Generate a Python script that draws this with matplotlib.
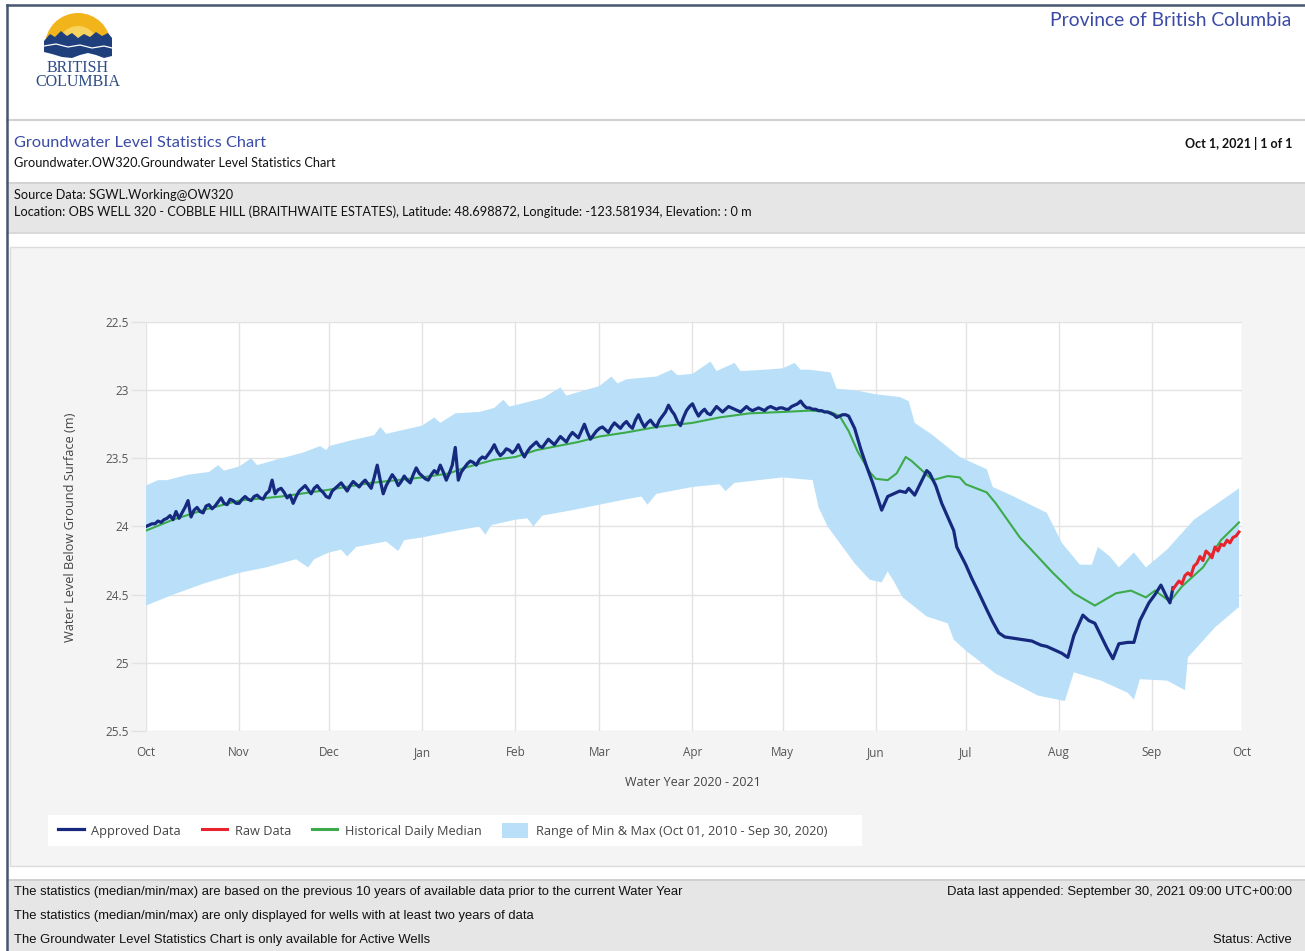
import matplotlib
matplotlib.use("Agg")
import matplotlib.pyplot as plt
import matplotlib.dates as mdates
from matplotlib.patches import Rectangle, Wedge, Polygon, Patch
from matplotlib.lines import Line2D
import numpy as np
import pandas as pd

# ---------------- data ----------------
# Approved data: daily readings from 2020-10-01 to 2021-05-23
approved_daily_start = "2020-10-01"
approved_daily_vals = [
    # Oct
    24.00, 23.99, 23.98, 23.98, 23.96, 23.97, 23.95, 23.94, 23.92, 23.95,
    23.89, 23.94, 23.90, 23.86, 23.81, 23.93, 23.88, 23.86, 23.89, 23.90,
    23.85, 23.84, 23.87, 23.85, 23.82, 23.79, 23.83, 23.84, 23.80, 23.81, 23.83,
    # Nov
    23.83, 23.80, 23.78, 23.80, 23.81, 23.78, 23.77, 23.79, 23.80, 23.76,
    23.74, 23.66, 23.76, 23.73, 23.72, 23.75, 23.79, 23.77, 23.83, 23.78,
    23.74, 23.72, 23.70, 23.73, 23.76, 23.72, 23.70, 23.73, 23.75, 23.78,
    # Dec
    23.79, 23.74, 23.72, 23.70, 23.68, 23.71, 23.74, 23.70, 23.67, 23.69,
    23.71, 23.68, 23.66, 23.69, 23.72, 23.64, 23.55, 23.66, 23.76, 23.70,
    23.66, 23.62, 23.65, 23.70, 23.67, 23.63, 23.66, 23.68, 23.62, 23.57, 23.61,
    # Jan
    23.63, 23.65, 23.66, 23.62, 23.59, 23.61, 23.55, 23.60, 23.66, 23.61,
    23.55, 23.42, 23.66, 23.60, 23.57, 23.54, 23.52, 23.53, 23.55, 23.51,
    23.49, 23.50, 23.47, 23.44, 23.40, 23.45, 23.48, 23.46, 23.43, 23.44, 23.46,
    # Feb
    23.44, 23.40, 23.45, 23.49, 23.45, 23.42, 23.40, 23.38, 23.41, 23.42,
    23.39, 23.36, 23.38, 23.40, 23.37, 23.34, 23.36, 23.38, 23.34, 23.31,
    23.33, 23.35, 23.30, 23.25, 23.31, 23.36, 23.33, 23.30,
    # Mar
    23.28, 23.27, 23.29, 23.31, 23.27, 23.24, 23.26, 23.28, 23.25, 23.23,
    23.26, 23.28, 23.22, 23.18, 23.23, 23.27, 23.24, 23.22, 23.25, 23.27,
    23.22, 23.19, 23.16, 23.11, 23.15, 23.18, 23.23, 23.26, 23.20, 23.15, 23.12,
    # Apr
    23.10, 23.15, 23.19, 23.16, 23.14, 23.17, 23.18, 23.15, 23.12, 23.14,
    23.16, 23.14, 23.12, 23.13, 23.14, 23.15, 23.16, 23.14, 23.12, 23.14,
    23.15, 23.14, 23.13, 23.14, 23.15, 23.13, 23.12, 23.13, 23.14, 23.13,
    # May 1-23
    23.13, 23.14, 23.14, 23.12, 23.11, 23.10, 23.08, 23.11, 23.13, 23.13,
    23.14, 23.14, 23.15, 23.15, 23.16, 23.16, 23.17, 23.18, 23.20, 23.19,
    23.18, 23.18, 23.19,
]
# Approved data after 2021-05-23
approved_dates = [
    "2021-05-25", "2021-05-27", "2021-05-29", "2021-05-31", "2021-06-03", "2021-06-05", "2021-06-07",
    "2021-06-09", "2021-06-11", "2021-06-12", "2021-06-14", "2021-06-16", "2021-06-18", "2021-06-19",
    "2021-06-21", "2021-06-23", "2021-06-25", "2021-06-27", "2021-06-28", "2021-07-01", "2021-07-03",
    "2021-07-05", "2021-07-08", "2021-07-10", "2021-07-12", "2021-07-14", "2021-07-17", "2021-07-20",
    "2021-07-23", "2021-07-26", "2021-07-28", "2021-07-31", "2021-08-02", "2021-08-04", "2021-08-06",
    "2021-08-09", "2021-08-11", "2021-08-13", "2021-08-15", "2021-08-17", "2021-08-19", "2021-08-21",
    "2021-08-24", "2021-08-26", "2021-08-28", "2021-08-31", "2021-09-02", "2021-09-04", "2021-09-06",
    "2021-09-07", "2021-09-08",
]
approved_vals = [
    23.28, 23.43, 23.56, 23.68, 23.88, 23.78, 23.76,
    23.74, 23.75, 23.72, 23.77, 23.68, 23.59, 23.61,
    23.70, 23.83, 23.93, 24.03, 24.15, 24.28, 24.38,
    24.47, 24.61, 24.70, 24.78, 24.81, 24.82, 24.83,
    24.84, 24.87, 24.88, 24.91, 24.93, 24.96, 24.80,
    24.65, 24.69, 24.71, 24.80, 24.89, 24.97, 24.86,
    24.85, 24.85, 24.69, 24.56, 24.50, 24.43, 24.52,
    24.56, 24.45,
]

raw_dates = [
    "2021-09-08", "2021-09-09", "2021-09-10", "2021-09-11", "2021-09-12", "2021-09-13", "2021-09-14",
    "2021-09-15", "2021-09-16", "2021-09-17", "2021-09-18", "2021-09-19", "2021-09-20", "2021-09-21",
    "2021-09-22", "2021-09-23", "2021-09-24", "2021-09-25", "2021-09-26", "2021-09-27", "2021-09-28",
    "2021-09-29", "2021-09-30",
]
raw_vals = [
    24.46, 24.43, 24.40, 24.42, 24.36, 24.34, 24.36,
    24.29, 24.27, 24.22, 24.25, 24.18, 24.20, 24.23,
    24.15, 24.18, 24.13, 24.14, 24.10, 24.12, 24.08,
    24.07, 24.04,
]

median_dates = [
    "2020-10-01", "2020-10-10", "2020-10-20", "2020-11-01", "2020-11-15", "2020-12-01", "2020-12-15",
    "2021-01-01", "2021-01-10", "2021-01-15", "2021-01-25", "2021-02-01", "2021-02-08", "2021-02-15",
    "2021-02-22", "2021-03-01", "2021-03-10", "2021-03-20", "2021-04-01", "2021-04-10", "2021-04-20",
    "2021-05-01", "2021-05-10", "2021-05-17", "2021-05-20", "2021-05-23", "2021-05-26", "2021-05-30",
    "2021-06-01", "2021-06-05", "2021-06-08", "2021-06-11", "2021-06-13", "2021-06-16", "2021-06-20",
    "2021-06-25", "2021-06-29", "2021-07-01", "2021-07-08", "2021-07-11", "2021-07-19", "2021-07-30",
    "2021-08-06", "2021-08-13", "2021-08-20", "2021-08-25", "2021-08-30", "2021-09-02", "2021-09-07",
    "2021-09-11", "2021-09-18", "2021-09-24", "2021-09-30",
]
median_vals = [
    24.03, 23.95, 23.88, 23.81, 23.78, 23.73, 23.68,
    23.64, 23.61, 23.57, 23.51, 23.49, 23.44, 23.41,
    23.38, 23.34, 23.31, 23.27, 23.24, 23.20, 23.17,
    23.16, 23.15, 23.16, 23.19, 23.30, 23.45, 23.60,
    23.65, 23.66, 23.61, 23.49, 23.52, 23.58, 23.66,
    23.63, 23.64, 23.69, 23.75, 23.83, 24.08, 24.34,
    24.49, 24.58, 24.49, 24.47, 24.52, 24.47, 24.55,
    24.44, 24.30, 24.10, 23.97,
]

range_min_dates = [
    "2020-10-01", "2020-10-05", "2020-10-08", "2020-10-15", "2020-10-22", "2020-10-25", "2020-10-27",
    "2020-11-01", "2020-11-05", "2020-11-07", "2020-11-15", "2020-11-22", "2020-11-28", "2020-11-30",
    "2020-12-01", "2020-12-08", "2020-12-16", "2020-12-18", "2020-12-20", "2021-01-01", "2021-01-05",
    "2021-01-07", "2021-01-12", "2021-01-20", "2021-01-25", "2021-01-28", "2021-01-30", "2021-02-01",
    "2021-02-10", "2021-02-16", "2021-02-18", "2021-03-01", "2021-03-05", "2021-03-07", "2021-03-10",
    "2021-03-20", "2021-03-25", "2021-03-27", "2021-04-01", "2021-04-07", "2021-04-09", "2021-04-15",
    "2021-04-17", "2021-04-25", "2021-05-01", "2021-05-05", "2021-05-07", "2021-05-10", "2021-05-17",
    "2021-05-19", "2021-05-25", "2021-06-01", "2021-06-09", "2021-06-12", "2021-06-14", "2021-06-20",
    "2021-06-29", "2021-07-08", "2021-07-10", "2021-07-17", "2021-07-28", "2021-08-02", "2021-08-08",
    "2021-08-12", "2021-08-14", "2021-08-18", "2021-08-21", "2021-08-26", "2021-08-30", "2021-09-06",
    "2021-09-15", "2021-09-30",
]
range_min_vals = [
    23.70, 23.66, 23.66, 23.62, 23.60, 23.55, 23.59,
    23.56, 23.50, 23.55, 23.50, 23.46, 23.41, 23.44,
    23.41, 23.37, 23.33, 23.27, 23.32, 23.26, 23.20,
    23.24, 23.17, 23.16, 23.13, 23.07, 23.12, 23.11,
    23.06, 22.98, 23.04, 22.97, 22.90, 22.95, 22.92,
    22.90, 22.85, 22.89, 22.88, 22.79, 22.86, 22.80,
    22.86, 22.85, 22.84, 22.80, 22.85, 22.85, 22.87,
    22.99, 23.00, 23.03, 23.05, 23.08, 23.24, 23.33,
    23.49, 23.58, 23.71, 23.78, 23.90, 24.12, 24.28,
    24.28, 24.15, 24.22, 24.30, 24.19, 24.30, 24.17,
    23.95, 23.72,
]

range_max_dates = [
    "2020-10-01", "2020-10-10", "2020-10-20", "2020-11-01", "2020-11-10", "2020-11-20", "2020-11-24",
    "2020-11-26", "2020-12-01", "2020-12-05", "2020-12-07", "2020-12-10", "2020-12-20", "2020-12-24",
    "2020-12-26", "2021-01-01", "2021-01-10", "2021-01-20", "2021-01-22", "2021-01-24", "2021-02-01",
    "2021-02-05", "2021-02-07", "2021-02-10", "2021-02-20", "2021-03-01", "2021-03-10", "2021-03-15",
    "2021-03-17", "2021-03-20", "2021-04-01", "2021-04-10", "2021-04-12", "2021-04-15", "2021-05-01",
    "2021-05-11", "2021-05-13", "2021-05-16", "2021-05-21", "2021-05-25", "2021-05-30", "2021-06-03",
    "2021-06-05", "2021-06-07", "2021-06-10", "2021-06-18", "2021-06-25", "2021-06-27", "2021-07-01",
    "2021-07-11", "2021-07-25", "2021-08-03", "2021-08-06", "2021-08-15", "2021-08-24", "2021-08-26",
    "2021-08-28", "2021-09-06", "2021-09-12", "2021-09-13", "2021-09-22", "2021-09-30",
]
range_max_vals = [
    24.58, 24.50, 24.42, 24.34, 24.30, 24.24, 24.30,
    24.24, 24.19, 24.17, 24.22, 24.15, 24.11, 24.18,
    24.10, 24.08, 24.04, 24.00, 24.06, 23.99, 23.95,
    23.94, 24.00, 23.92, 23.88, 23.84, 23.80, 23.78,
    23.84, 23.76, 23.71, 23.69, 23.74, 23.68, 23.64,
    23.66, 23.86, 24.00, 24.15, 24.27, 24.39, 24.41,
    24.33, 24.40, 24.52, 24.66, 24.71, 24.83, 24.91,
    25.08, 25.24, 25.28, 25.07, 25.13, 25.22, 25.27,
    25.12, 25.13, 25.20, 24.96, 24.74, 24.59,
]

y_ticks = [22.5, 23, 23.5, 24, 24.5, 25, 25.5]
legend_labels = ["Approved Data", "Raw Data", "Historical Daily Median",
                 "Range of Min & Max (Oct 01, 2010 - Sep 30, 2020)"]

# ---------------- styling ----------------
W, H = 1305, 951
C_NAVY = "#16297f"
C_RED = "#e8232b"
C_GREEN = "#3caa4a"
C_BAND = "#b9e0f8"
C_BLUE_TXT = "#3a4aa6"
FONT = ["Open Sans", "DejaVu Sans"]
HFONT = ["Lato", "DejaVu Sans"]
NFONT = ["Liberation Sans Narrow", "Liberation Sans", "DejaVu Sans"]

plt.rcParams["font.family"] = FONT

fig = plt.figure(figsize=(W / 100, H / 100), dpi=100)
fig.patch.set_facecolor("white")


def fx(x):
    return x / W


def fy(y):
    return 1 - y / H


def frect(x0, y0, x1, y1, **kw):
    kw.setdefault("zorder", -5)
    fig.add_artist(Rectangle((fx(x0), fy(y1)), fx(x1) - fx(x0), fy(y0) - fy(y1),
                             transform=fig.transFigure, **kw))


def fline(xs, ys, **kw):
    kw.setdefault("zorder", -4)
    fig.add_artist(Line2D([fx(v) for v in xs], [fy(v) for v in ys],
                          transform=fig.transFigure, **kw))


def ftext(x, y, s, **kw):
    fig.text(fx(x), fy(y), s, **kw)


# header separators & bands
fline([7, W], [120, 120], color="#d2d2d2", lw=1.6)
fline([7, W], [183, 183], color="#d2d2d2", lw=1.4)
frect(7, 184, W, 232, facecolor="#e6e6e6", edgecolor="none")
fline([7, W], [233, 233], color="#d2d2d2", lw=1.2)
# chart container
frect(10, 247, W + 5, 866, facecolor="#f4f4f4", edgecolor="#dcdcdc", lw=1)
# footer band
fline([7, W], [880, 880], color="#cfcfcf", lw=1.4)
frect(7, 881, W, H, facecolor="#e6e6e6", edgecolor="none")
# page border
fline([7, 7], [5, H], color="#46566f", lw=1.8, zorder=10)
fline([7, W], [5, 5], color="#46566f", lw=1.8, zorder=10)

# header texts
ftext(1291, 21, "Province of British Columbia", ha="right", va="center",
      fontsize=13.9, color=C_BLUE_TXT, family=HFONT)
ftext(14, 143, "Groundwater Level Statistics Chart", ha="left", va="center",
      fontsize=11.8, color=C_BLUE_TXT, family=HFONT)
ftext(14, 163, "Groundwater.OW320.Groundwater Level Statistics Chart", ha="left", va="center",
      fontsize=9.2, color="#111111", family=HFONT)
ftext(1292, 143, "Oct 1, 2021 | 1 of 1", ha="right", va="center",
      fontsize=9.0, color="#111111", family=HFONT, fontweight="bold")
ftext(14, 195, "Source Data: SGWL.Working@OW320", ha="left", va="center",
      fontsize=9.2, color="#111111", family=HFONT)
ftext(14, 212, "Location: OBS WELL 320 - COBBLE HILL (BRAITHWAITE ESTATES), Latitude: 48.698872, "
      "Longitude: -123.581934, Elevation: : 0 m", ha="left", va="center",
      fontsize=9.2, color="#111111", family=HFONT)

# footer texts
FS_FOOT = 9.4
ftext(14, 892, "The statistics (median/min/max) are based on the previous 10 years of available data "
      "prior to the current Water Year", ha="left", va="center", fontsize=FS_FOOT, color="#111111",
      family=NFONT)
ftext(14, 916, "The statistics (median/min/max) are only displayed for wells with at least two years of data",
      ha="left", va="center", fontsize=FS_FOOT, color="#111111", family=NFONT)
ftext(14, 940, "The Groundwater Level Statistics Chart is only available for Active Wells",
      ha="left", va="center", fontsize=FS_FOOT, color="#111111", family=NFONT)
ftext(1292, 892, "Data last appended: September 30, 2021 09:00 UTC+00:00", ha="right", va="center",
      fontsize=FS_FOOT, color="#111111", family=NFONT)
ftext(1292, 940, "Status: Active", ha="right", va="center", fontsize=FS_FOOT, color="#111111", family=NFONT)

# logo
lax = fig.add_axes([fx(30), fy(95), fx(130) - fx(30), fy(5) - fy(95)])
lax.set_xlim(30, 130)
lax.set_ylim(95, 5)
lax.axis("off")
lax.add_patch(Wedge((78, 46), 33, 180, 360, facecolor="#f2b41b", edgecolor="none"))
lax.add_patch(Wedge((78, 46), 20, 180, 360, facecolor="#f8d25e", edgecolor="none"))
lax.add_patch(Wedge((78, 46), 9, 180, 360, facecolor="#fdf0c2", edgecolor="none"))
mount = [(44, 41), (50, 34), (55, 37), (61, 31), (67, 36), (72, 33), (78, 38), (84, 34), (90, 37),
         (96, 32), (102, 36), (108, 33), (112, 38), (112, 56), (104, 58), (96, 55), (88, 53),
         (80, 55), (72, 58), (62, 57), (52, 54), (44, 52)]
lax.add_patch(Polygon(mount, closed=True, facecolor="#1f3f7c", edgecolor="none"))
lax.plot([44, 56, 68, 80, 92, 104, 112], [46, 44, 47, 45, 48, 46, 48], color="white", lw=0.9)
lax.text(78, 68, "BRITISH", ha="center", va="center", fontsize=11.5,
         family=["Liberation Serif", "DejaVu Serif"], color="#2d4c85")
lax.text(78, 82, "COLUMBIA", ha="center", va="center", fontsize=11.5,
         family=["Liberation Serif", "DejaVu Serif"], color="#2d4c85")

# ---------------- main chart ----------------
ax = fig.add_axes([fx(146), fy(731), fx(1242) - fx(146), fy(322) - fy(731)])
ax.set_facecolor("white")

t_min = pd.to_datetime(range_min_dates)
t_max = pd.to_datetime(range_max_dates)
poly_x = list(t_min) + list(t_max[::-1])
poly_y = list(range_min_vals) + list(range_max_vals[::-1])
ax.fill(mdates.date2num(poly_x), poly_y, color=C_BAND, lw=0, zorder=2)

ax.plot(pd.to_datetime(median_dates), median_vals, color=C_GREEN, lw=1.5, zorder=3)

appr_t = list(pd.date_range(approved_daily_start, periods=len(approved_daily_vals), freq="D")) + \
    list(pd.to_datetime(approved_dates))
appr_v = list(approved_daily_vals) + list(approved_vals)
ax.plot(appr_t, appr_v, color=C_NAVY, lw=2.3, zorder=4, solid_joinstyle="round")
ax.plot(pd.to_datetime(raw_dates), raw_vals, color=C_RED, lw=2.2, zorder=4, solid_joinstyle="round")

ax.set_xlim(pd.Timestamp("2020-10-01"), pd.Timestamp("2021-10-01"))
ax.set_ylim(25.5, 22.5)
ax.set_yticks(y_ticks)
ax.set_yticklabels([f"{v:g}" for v in y_ticks])
ax.xaxis.set_major_locator(mdates.MonthLocator())
ax.xaxis.set_major_formatter(mdates.DateFormatter("%b"))
ax.grid(True, color="#e2e2e2", lw=1, zorder=1)
ax.set_axisbelow(True)
for s in ax.spines.values():
    s.set_visible(False)
ax.tick_params(axis="y", length=11, width=1, color="#e2e2e2", pad=1.5, labelsize=8.5, labelcolor="#555555")
ax.tick_params(axis="x", length=0, pad=10.8, labelsize=8.5, labelcolor="#555555")

ftext(693, 782, "Water Year 2020 - 2021", ha="center", va="center", fontsize=9.0, color="#444444")
ftext(70, 527, "Water Level Below Ground Surface (m)", ha="center", va="center", rotation=90,
      fontsize=9.2, color="#444444")

# legend
frect(48, 815, 862, 846, facecolor="white", edgecolor="none", zorder=-3)
handles = [Line2D([], [], color=C_NAVY, lw=2.3), Line2D([], [], color=C_RED, lw=2.2),
           Line2D([], [], color=C_GREEN, lw=2.2), Patch(facecolor=C_BAND, edgecolor="none")]
fig.legend(handles, legend_labels, loc="center left", bbox_to_anchor=(fx(58), fy(830.5)),
           ncol=4, frameon=False, fontsize=9.2, labelcolor="#444444", handlelength=2.0,
           handleheight=1.5, handletextpad=0.62, columnspacing=1.6, borderaxespad=0, borderpad=0)

fig.savefig("out.png", dpi=100, facecolor="white")
